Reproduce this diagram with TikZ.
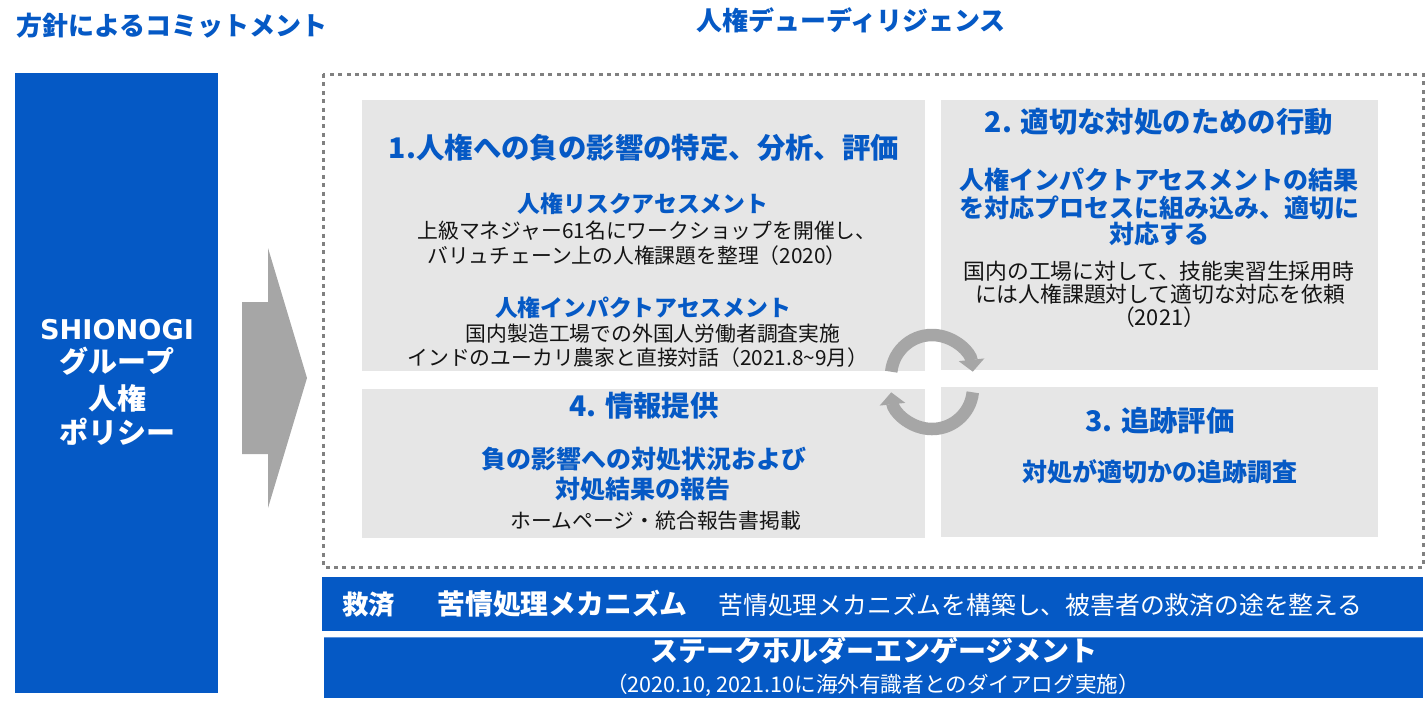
\documentclass[tikz,border=0pt]{standalone}
\usepackage{fontspec}
\setmainfont{Noto Sans CJK JP}
\newfontfamily\latinwide{DejaVu Sans}
\usetikzlibrary{arrows.meta}
\definecolor{sblue}{RGB}{5,89,197}
\definecolor{boxgray}{RGB}{230,230,230}
\definecolor{arrgray}{RGB}{166,166,166}
\definecolor{dotgray}{RGB}{128,128,128}
\definecolor{bodyblack}{RGB}{20,20,20}
\begin{document}
\begin{tikzpicture}[x=0.5pt,y=-0.5pt,
  txt/.style={anchor=base,inner sep=0pt},
  hdr/.style={txt,text=sblue,font=\bfseries\fontsize{13pt}{15pt}\selectfont},
  lefttxt/.style={txt,text=white,font=\bfseries\fontsize{14.5pt}{17pt}\selectfont},
  ttl/.style={txt,text=sblue,font=\bfseries\fontsize{14.2pt}{17pt}\selectfont},
  subA/.style={txt,text=sblue,font=\bfseries\fontsize{11.4pt}{14pt}\selectfont},
  subB/.style={txt,text=sblue,font=\bfseries\fontsize{12.5pt}{15pt}\selectfont},
  bodyA/.style={txt,text=bodyblack,font=\fontsize{10.4pt}{13pt}\selectfont},
  bodyB/.style={txt,text=bodyblack,font=\fontsize{10.9pt}{13pt}\selectfont},
  graybox/.style={fill=boxgray},
  cyc/.style={draw=arrgray,line width=6.25pt,-{Triangle[length=6pt,width=12.5pt]}},
]
\useasboundingbox (0,0) rectangle (1428,709);

% headers
\node[hdr,anchor=base west] (hleft) at (16,35) {方針によるコミットメント};
\node[hdr] (hright) at (851,30) {人権デューディリジェンス};

% left policy box
\fill[sblue] (15,73) rectangle (218,693);
\node[lefttxt,font=\latinwide\bfseries\fontsize{13.6pt}{17pt}\selectfont] (l1) at (117,339) {SHIONOGI};
\node[lefttxt] (l2) at (117,372) {グループ};
\node[lefttxt] (l3) at (117,409) {人権};
\node[lefttxt] (l4) at (117,443) {ポリシー};

% big arrow
\fill[arrgray] (242,302) -- (268,302) -- (268,248) -- (307,378) -- (268,508) -- (268,454) -- (242,454) -- cycle;

% dotted frame
\draw[dotgray,line width=1.5pt,dash pattern=on 2pt off 2.2pt] (323,74) rectangle (1423,567);

% gray boxes
\fill[graybox] (362,100) rectangle (925,371);
\fill[graybox] (941,100) rectangle (1378,370);
\fill[graybox] (362,389) rectangle (925,538);
\fill[graybox] (941,387) rectangle (1378,537);

% box 1
\node[ttl] (t1) at (644,158) {1.人権への負の影響の特定、分析、評価};
\node[subA] (s1a) at (643,212) {人権リスクアセスメント};
\node[bodyA] (b1a) at (647,238) {上級マネジャー61名にワークショップを開催し、};
\node[bodyA] (b1b) at (637,263) {バリュチェーン上の人権課題を整理（2020）};
\node[subA] (s1b) at (643,316) {人権インパクトアセスメント};
\node[bodyA] (b1c) at (653,341) {国内製造工場での外国人労働者調査実施};
\node[bodyA] (b1d) at (638,365) {インドのユーカリ農家と直接対話（2021.8\textasciitilde 9月）};

% box 2
\node[ttl] (t2) at (1159,132) {2. 適切な対処のための行動};
\node[subB] (s2a) at (1159,189.5) {人権インパクトアセスメントの結果};
\node[subB] (s2b) at (1159,217) {を対応プロセスに組み込み、適切に};
\node[subB] (s2c) at (1159,243.5) {対応する};
\node[bodyB] (b2a) at (1159,279) {国内の工場に対して、技能実習生採用時};
\node[bodyB] (b2b) at (1160,302.5) {には人権課題対して適切な対応を依頼};
\node[bodyB] (b2c) at (1159,325.5) {（2021）};

% box 4
\node[ttl] (t4) at (644,416.5) {4. 情報提供};
\node[subB] (s4a) at (644,468) {負の影響への対処状況および};
\node[subB] (s4b) at (643,498) {対処結果の報告};
\node[bodyA] (b4a) at (656,528) {ホームページ・統合報告書掲載};

% box 3
\node[ttl] (t3) at (1160,431.5) {3. 追跡評価};
\node[subB] (s3a) at (1160,481) {対処が適切かの追跡調査};

% cycle arrows
\coordinate (c1) at (932,376);
\coordinate (c2) at (932,388);
\draw[cyc] ([shift={(174:20.5pt)}]c1) arc[start angle=174,end angle=6,radius=20.5pt];
\draw[cyc] ([shift={(-6:20.5pt)}]c2) arc[start angle=-6,end angle=-174,radius=20.5pt];

% grievance bar
\fill[sblue] (322,577) rectangle (1423,631);
\node[txt,anchor=base west,text=white,font=\bfseries\fontsize{13.2pt}{15pt}\selectfont] (g1) at (342,614) {救済};
\node[txt,anchor=base west,text=white,font=\bfseries\fontsize{13.9pt}{16pt}\selectfont] (g2) at (437,614) {苦情処理メカニズム};
\node[txt,anchor=base west,text=white,font=\fontsize{12.4pt}{15pt}\selectfont] (g3) at (718,614) {苦情処理メカニズムを構築し、被害者の救済の途を整える};

% stakeholder bar
\fill[sblue] (324,637) rectangle (1423,698);
\draw[sblue!65!white,line width=0.5pt] (324,637.5) -- (1423,637.5);
\node[txt,text=white,font=\bfseries\fontsize{14pt}{16pt}\selectfont] (e1) at (874,661) {ステークホルダーエンゲージメント};
\node[txt,text=white,font=\fontsize{10.8pt}{13pt}\selectfont] (e2) at (873,692) {（2020.10, 2021.10に海外有識者とのダイアログ実施）};
\end{tikzpicture}
\end{document}
